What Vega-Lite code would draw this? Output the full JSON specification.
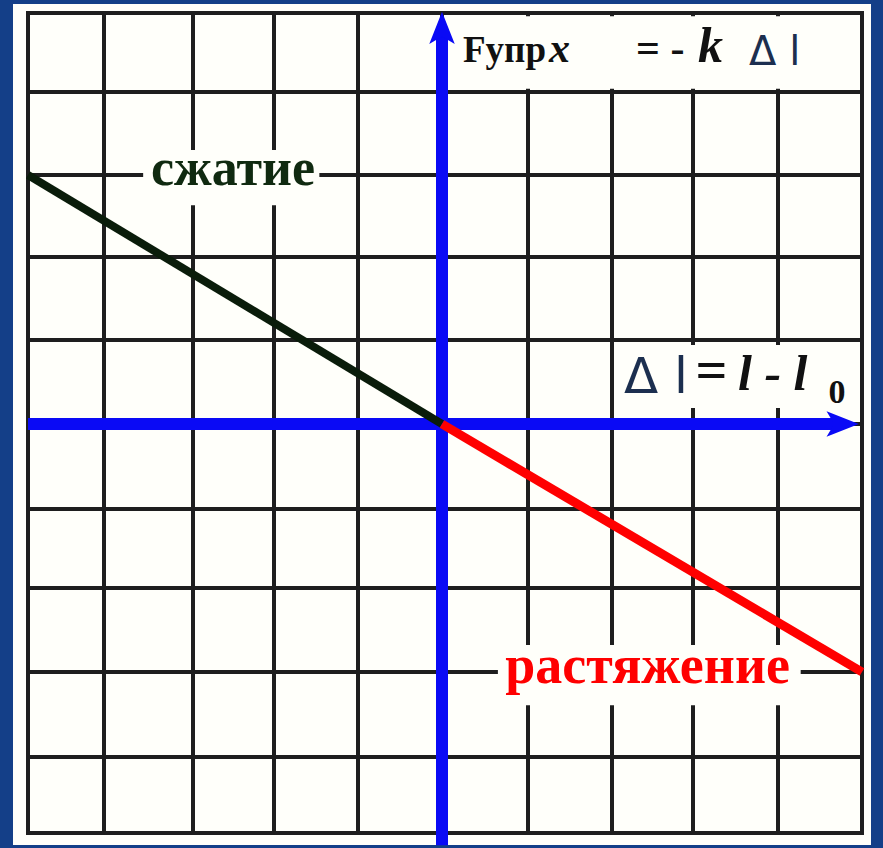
{
  "$schema": "https://vega.github.io/schema/vega-lite/v6.json",
  "autosize": {"type": "fit", "contains": "padding"},
  "width": 883,
  "height": 848,
  "padding": {"left": 12, "top": 4, "right": 12, "bottom": 3},
  "background": "#143f88",
  "config": {"view": {"fill": "#fffffa", "stroke": null}},
  "encoding": {
    "x": {"field": "x", "type": "quantitative", "axis": null,
      "scale": {"type": "linear", "nice": false, "zero": false,
        "domain": [-5, -4, -3, -2, -1, 0, 1, 2, 3, 4, 5],
        "range": [15, 91, 180, 261, 345, 429, 515, 599, 680, 765, 849]}},
    "y": {"field": "y", "type": "quantitative", "axis": null,
      "scale": {"type": "linear", "nice": false, "zero": false,
        "domain": [-5, -4, -3, -2, -1, 0, 1, 2, 3, 4, 5],
        "range": [829, 753, 668, 584, 505, 420, 336, 253, 171, 88, 9]}}
  },
  "layer": [
    {
      "description": "vertical grid lines",
      "data": {"values": [
        {"x": -5, "y": -5, "y2": 5}, {"x": -4, "y": -5, "y2": 5}, {"x": -3, "y": -5, "y2": 5},
        {"x": -2, "y": -5, "y2": 5}, {"x": -1, "y": -5, "y2": 5}, {"x": 0, "y": -5, "y2": 5},
        {"x": 1, "y": -5, "y2": 5}, {"x": 2, "y": -5, "y2": 5}, {"x": 3, "y": -5, "y2": 5},
        {"x": 4, "y": -5, "y2": 5}, {"x": 5, "y": -5, "y2": 5}
      ]},
      "mark": {"type": "rule", "stroke": "#1e1e1e", "strokeWidth": 4, "strokeCap": "square"},
      "encoding": {"y2": {"field": "y2"}}
    },
    {
      "description": "horizontal grid lines",
      "data": {"values": [
        {"y": -5, "x": -5, "x2": 5}, {"y": -4, "x": -5, "x2": 5}, {"y": -3, "x": -5, "x2": 5},
        {"y": -2, "x": -5, "x2": 5}, {"y": -1, "x": -5, "x2": 5}, {"y": 0, "x": -5, "x2": 5},
        {"y": 1, "x": -5, "x2": 5}, {"y": 2, "x": -5, "x2": 5}, {"y": 3, "x": -5, "x2": 5},
        {"y": 4, "x": -5, "x2": 5}, {"y": 5, "x": -5, "x2": 5}
      ]},
      "mark": {"type": "rule", "stroke": "#1e1e1e", "strokeWidth": 4, "strokeCap": "square"},
      "encoding": {"x2": {"field": "x2"}}
    },
    {
      "description": "white label backgrounds",
      "data": {"values": [
        {"x": 0.07, "x2": 4.96, "y": 4.04, "y2": 4.96},
        {"x": -3.56, "x2": -1.46, "y": 2.63, "y2": 3.3},
        {"x": 0.65, "x2": 4.27, "y": -3.39, "y2": -2.68},
        {"x": 2.09, "x2": 4.95, "y": 0.19, "y2": 0.94}
      ]},
      "mark": {"type": "rect", "fill": "#fffffa"},
      "encoding": {"x2": {"field": "x2"}, "y2": {"field": "y2"}}
    },
    {
      "description": "force axis",
      "data": {"values": [{"x": 0, "y": -5.16, "y2": 4.8}]},
      "mark": {"type": "rule", "stroke": "#0a0af5", "strokeWidth": 12},
      "encoding": {"y2": {"field": "y2"}}
    },
    {
      "description": "elongation axis",
      "data": {"values": [{"y": 0, "x": -5, "x2": 4.76}]},
      "mark": {"type": "rule", "stroke": "#0a0af5", "strokeWidth": 12},
      "encoding": {"x2": {"field": "x2"}}
    },
    {
      "data": {"values": [{"x": 0, "y": 4.8}]},
      "mark": {"type": "point", "filled": true, "fill": "#0a0af5", "opacity": 1, "size": 1156,
        "shape": "M0,-1L0.75,0.9L0,0.45L-0.75,0.9Z"}
    },
    {
      "data": {"values": [{"x": 4.76, "y": 0}]},
      "mark": {"type": "point", "filled": true, "fill": "#0a0af5", "opacity": 1, "size": 1156,
        "shape": "M1,0L-0.9,-0.75L-0.45,0L-0.9,0.75Z"}
    },
    {
      "description": "compression branch",
      "data": {"values": [{"x": -5, "y": 3}, {"x": 0, "y": 0}]},
      "mark": {"type": "line", "stroke": "#0a1c0a", "strokeWidth": 8}
    },
    {
      "description": "tension branch",
      "data": {"values": [{"x": 0, "y": 0}, {"x": 5, "y": -3}]},
      "mark": {"type": "line", "stroke": "#ff0000", "strokeWidth": 9}
    },
    {
      "data": {"values": [{"x": -2.506, "y": 2.88, "text": "сжатие"}]},
      "mark": {"type": "text", "font": "Liberation Serif", "fontWeight": "bold", "fontSize": 52,
        "fill": "#102a10", "align": "center", "baseline": "alphabetic"},
      "encoding": {"text": {"field": "text"}}
    },
    {
      "data": {"values": [{"x": 2.44, "y": -3.13, "text": "растяжение"}]},
      "mark": {"type": "text", "font": "Liberation Serif", "fontWeight": "bold", "fontSize": 54,
        "fill": "#ff0000", "align": "center", "baseline": "alphabetic"},
      "encoding": {"text": {"field": "text"}}
    },
    {
      "data": {"values": [{"x": 0.244, "y": 4.38, "text": "Fупр"}]},
      "mark": {"type": "text", "font": "Liberation Serif", "fontWeight": "bold", "fontSize": 37,
        "fill": "#111111", "align": "left", "baseline": "alphabetic"},
      "encoding": {"text": {"field": "text"}}
    },
    {
      "data": {"values": [{"x": 2.296, "y": 4.38, "text": "= -"}]},
      "mark": {"type": "text", "font": "Liberation Serif", "fontWeight": "bold", "fontSize": 42,
        "fill": "#111111", "align": "left", "baseline": "alphabetic"},
      "encoding": {"text": {"field": "text"}}
    },
    {
      "data": {"values": [{"x": 1.25, "y": 4.38, "text": "x"}]},
      "mark": {"type": "text", "font": "Liberation Serif", "fontStyle": "italic", "fontWeight": "bold", "fontSize": 42,
        "fill": "#111111", "align": "left", "baseline": "alphabetic"},
      "encoding": {"text": {"field": "text"}}
    },
    {
      "data": {"values": [{"x": 3.06, "y": 4.38, "text": "k"}]},
      "mark": {"type": "text", "font": "Liberation Serif", "fontStyle": "italic", "fontWeight": "bold", "fontSize": 50,
        "fill": "#111111", "align": "left", "baseline": "alphabetic"},
      "encoding": {"text": {"field": "text"}}
    },
    {
      "data": {"values": [{"x": 3.66, "y": 4.34, "text": "Δ l"}]},
      "mark": {"type": "text", "font": "DejaVu Sans", "fontSize": 40,
        "fill": "#1c2f4f", "align": "left", "baseline": "alphabetic"},
      "encoding": {"text": {"field": "text"}}
    },
    {
      "data": {"values": [{"x": 2.148, "y": 0.37, "text": "Δ l"}]},
      "mark": {"type": "text", "font": "DejaVu Sans", "fontSize": 50,
        "fill": "#1c2f4f", "align": "left", "baseline": "alphabetic"},
      "encoding": {"text": {"field": "text"}}
    },
    {
      "data": {"values": [{"x": 3.03, "y": 0.42, "text": "="}]},
      "mark": {"type": "text", "font": "Liberation Serif", "fontWeight": "bold", "fontSize": 56,
        "fill": "#111111", "align": "left", "baseline": "alphabetic"},
      "encoding": {"text": {"field": "text"}}
    },
    {
      "data": {"values": [{"x": 3.53, "y": 0.405, "text": "l - l"}]},
      "mark": {"type": "text", "font": "Liberation Serif", "fontStyle": "italic", "fontWeight": "bold", "fontSize": 50,
        "fill": "#111111", "align": "left", "baseline": "alphabetic"},
      "encoding": {"text": {"field": "text"}}
    },
    {
      "data": {"values": [{"x": 4.6, "y": 0.25, "text": "0"}]},
      "mark": {"type": "text", "font": "Liberation Serif", "fontWeight": "bold", "fontSize": 34,
        "fill": "#111111", "align": "left", "baseline": "alphabetic"},
      "encoding": {"text": {"field": "text"}}
    }
  ]
}
